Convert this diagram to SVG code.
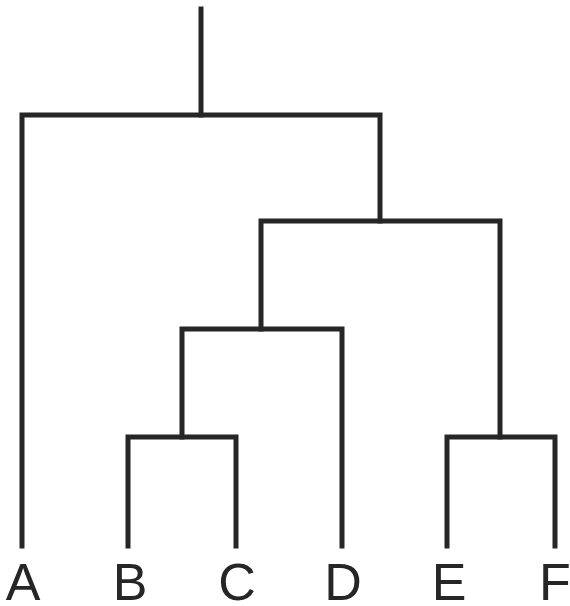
<svg xmlns="http://www.w3.org/2000/svg" width="570" height="606" viewBox="0 0 570 606">
<style>
.e{fill:none;stroke:#262626;stroke-width:5;stroke-linecap:square;stroke-linejoin:miter}
.l{font-family:"Liberation Sans",Arial,sans-serif;font-size:52px;fill:#262626;text-anchor:middle}
</style>
<rect width="570" height="606" fill="#fff"/>
<g id="connectors">
<path class="e" d="M201,9V115"/>
<path class="e" d="M22,546V115H380V221"/>
<path class="e" d="M261,329V221H500V437"/>
<path class="e" d="M182,437V329H342V546"/>
<path class="e" d="M128,546V437H236V546"/>
<path class="e" d="M447,546V437H555V546"/>
</g>
<g id="A"><text class="l" x="23" y="600">A</text></g>
<g id="B"><text class="l" x="130" y="600">B</text></g>
<g id="C"><text class="l" x="237" y="600">C</text></g>
<g id="D"><text class="l" x="343" y="600">D</text></g>
<g id="E"><text class="l" x="449" y="600">E</text></g>
<g id="F"><text class="l" x="555" y="600">F</text></g>
</svg>
